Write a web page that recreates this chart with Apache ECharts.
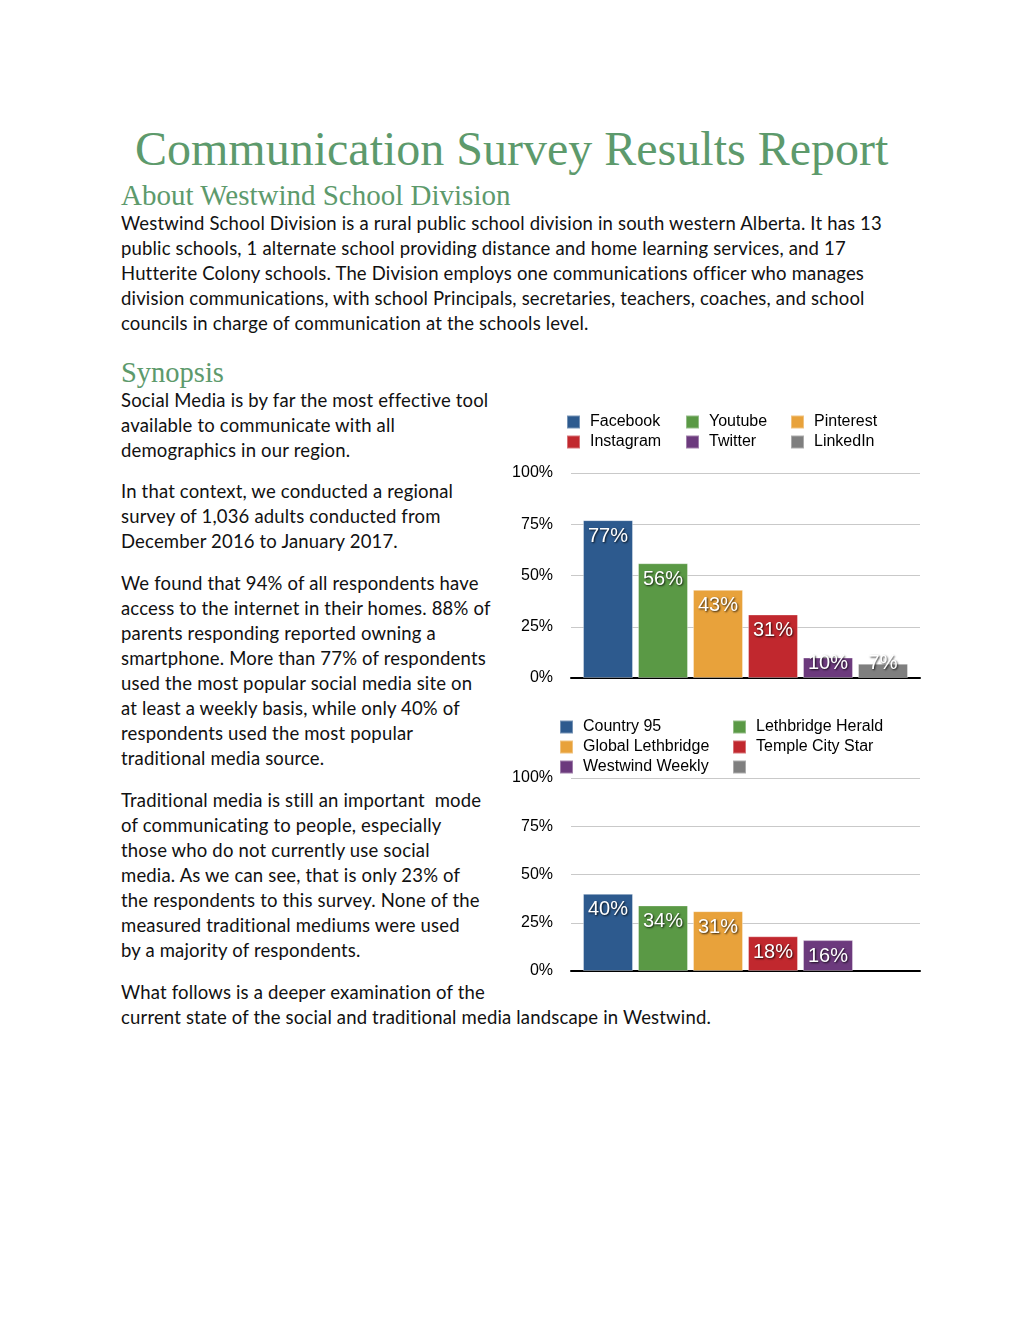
<!DOCTYPE html>
<html>
<head>
<meta charset="utf-8">
<script src="https://cdn.jsdelivr.net/npm/echarts@6/dist/echarts.min.js"></script>
<style>
  html, body { margin: 0; padding: 0; background: #fff; }
  body { width: 1020px; height: 1320px; position: relative; overflow: hidden; }
  .serif { position: absolute; font-family: "Liberation Serif", "DejaVu Serif", serif; color: #5d9a6c; white-space: pre; }
  .txt { position: absolute; left: 121px; font-family: Lato, "Noto Sans", sans-serif; font-size: 18.5px; letter-spacing: 0.17px; line-height: 25px; color: #111; white-space: pre; }
  #c1 { position: absolute; left: 500px; top: 400px; width: 430px; height: 290px; }
  #c2 { position: absolute; left: 500px; top: 700px; width: 430px; height: 290px; }
</style>
</head>
<body>
<div class="serif" style="left:135px; top:119px; font-size:48px; line-height:60px;">Communication Survey Results Report</div>
<div class="serif" style="left:121px; top:177px; font-size:29px; line-height:36px;">About Westwind School Division</div>
<div class="txt" style="top:211px;">Westwind School Division is a rural public school division in south western Alberta. It has 13
public schools, 1 alternate school providing distance and home learning services, and 17
Hutterite Colony schools. The Division employs one communications officer who manages
division communications, with school Principals, secretaries, teachers, coaches, and school
councils in charge of communication at the schools level.</div>
<div class="serif" style="left:121px; top:355px; font-size:28.5px; line-height:36px;">Synopsis</div>
<div class="txt" style="top:388px;">Social Media is by far the most effective tool
available to communicate with all
demographics in our region.</div>
<div class="txt" style="top:479px;">In that context, we conducted a regional
survey of 1,036 adults conducted from
December 2016 to January 2017.</div>
<div class="txt" style="top:571px;">We found that 94% of all respondents have
access to the internet in their homes. 88% of
parents responding reported owning a
smartphone. More than 77% of respondents
used the most popular social media site on
at least a weekly basis, while only 40% of
respondents used the most popular
traditional media source.</div>
<div class="txt" style="top:788px;">Traditional media is still an important  mode
of communicating to people, especially
those who do not currently use social
media. As we can see, that is only 23% of
the respondents to this survey. None of the
measured traditional mediums were used
by a majority of respondents.</div>
<div class="txt" style="top:980px;">What follows is a deeper examination of the
current state of the social and traditional media landscape in Westwind.</div>

<div id="c1"></div>
<div id="c2"></div>

<script>
// ---- data ----
var socialNames = ['Facebook', 'Youtube', 'Pinterest', 'Instagram', 'Twitter', 'LinkedIn'];
var socialValues = [77, 56, 43, 31, 10, 7];
var tradNames = ['Country 95', 'Lethbridge Herald', 'Global Lethbridge', 'Temple City Star', 'Westwind Weekly', ' '];
var tradValues = [40, 34, 31, 18, 16, null];
var yTicks = [0, 25, 50, 75, 100];
var colors = ['#2d5a8e', '#5a9945', '#e8a23b', '#c1282e', '#6c3a7d', '#7f7f7f'];

var FONT = '"Liberation Sans", Arial, sans-serif';

function makeSeries(names, values) {
  return names.map(function (n, i) {
    var small = values[i] != null && values[i] < 14;
    return {
      type: 'bar',
      name: n,
      data: [values[i] == null ? '-' : values[i]],
      barWidth: 50,
      barGap: '10%',
      itemStyle: { color: colors[i], borderColor: 'rgba(255,255,255,0.35)', borderWidth: 1 },
      label: {
        show: values[i] != null,
        position: small ? 'insideBottom' : 'insideTop',
        distance: small ? 5 : 6,
        formatter: '{c}%',
        color: '#fff',
        fontFamily: FONT,
        fontSize: 20,
        textShadowColor: 'rgba(0,0,0,0.8)',
        textShadowBlur: 2,
        textShadowOffsetX: 1,
        textShadowOffsetY: 1
      }
    };
  });
}

function makeLegends(columns, lefts, top) {
  return columns.map(function (col, k) {
    return {
      orient: 'vertical',
      left: lefts[k],
      top: top,
      padding: 0,
      itemWidth: 13,
      itemHeight: 13,
      itemGap: 0,
      icon: 'rect',
      selectedMode: false,
      data: col,
      textStyle: { fontFamily: FONT, fontSize: 16, color: '#000', lineHeight: 20, padding: [0, 0, 0, 5] }
    };
  });
}

function makeOption(names, values, legendCols, legendLefts, legendTop, gridTop, gridHeight) {
  return {
    animation: false,
    color: colors,
    legend: makeLegends(legendCols, legendLefts, legendTop),
    grid: { left: 71, right: 10, top: gridTop, height: gridHeight },
    xAxis: {
      type: 'category',
      data: [''],
      axisTick: { show: false },
      axisLabel: { show: false },
      axisLine: { lineStyle: { color: '#000', width: 2 } }
    },
    yAxis: {
      type: 'value',
      min: yTicks[0],
      max: yTicks[yTicks.length - 1],
      interval: 25,
      axisLine: { show: false },
      axisTick: { show: false },
      axisLabel: { formatter: '{value}%', fontFamily: FONT, fontSize: 16, color: '#000', margin: 18 },
      splitLine: { lineStyle: { color: '#c9c9c9', width: 1 } }
    },
    series: makeSeries(names, values)
  };
}

var c1 = echarts.init(document.getElementById('c1'));
c1.setOption(makeOption(socialNames, socialValues,
  [[socialNames[0], socialNames[3]], [socialNames[1], socialNames[4]], [socialNames[2], socialNames[5]]],
  [66, 185, 290], 12, 73, 205));

var c2 = echarts.init(document.getElementById('c2'));
c2.setOption(makeOption(tradNames, tradValues,
  [[tradNames[0], tradNames[2], tradNames[4]], [tradNames[1], tradNames[3], tradNames[5]]],
  [59, 232], 17, 78, 193));
</script>
</body>
</html>
